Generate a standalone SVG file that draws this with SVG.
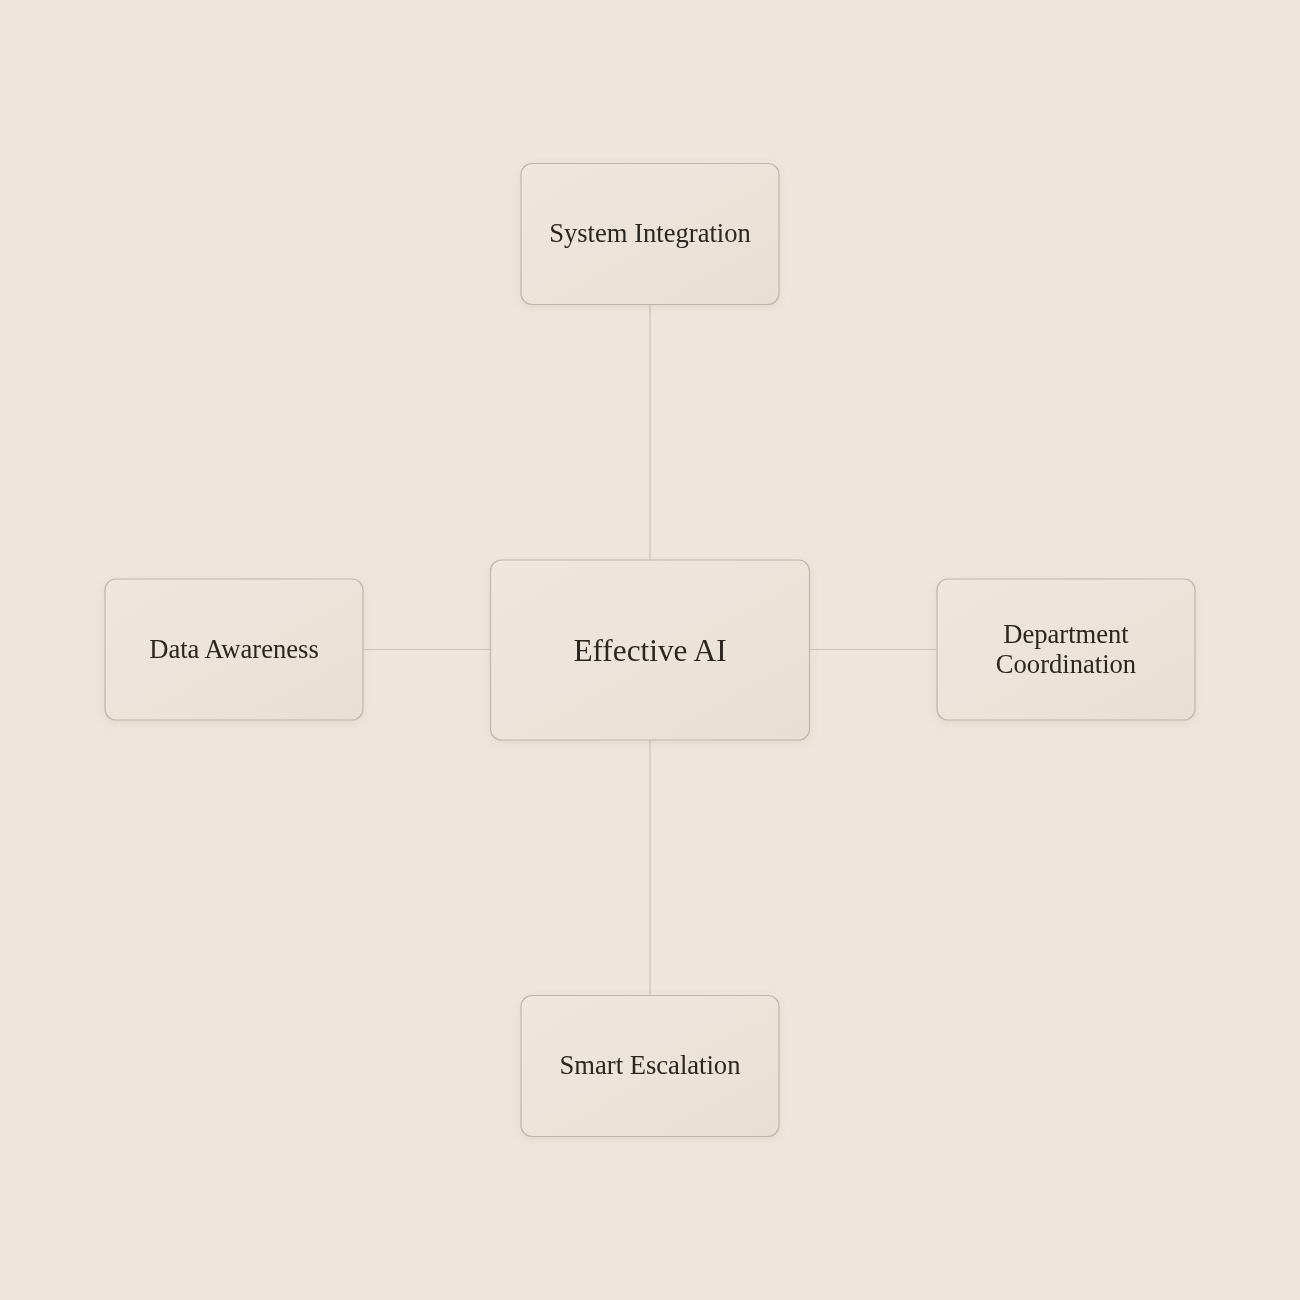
<svg xmlns="http://www.w3.org/2000/svg" width="1300" height="1300" viewBox="0 0 1300 1300">
<style>
.node rect{fill:url(#g);stroke:#BFB6AC;stroke-width:1.2}
.node text{font-family:"Liberation Serif","DejaVu Serif",serif;fill:#2A2520;text-anchor:middle}
.conn line{stroke:#CDC3B8;stroke-width:1.2}
</style>
<defs>
<linearGradient id="g" x1="0" y1="0" x2="1" y2="1">
<stop offset="0" stop-color="#EFE7DE"/>
<stop offset="1" stop-color="#E8DFD4"/>
</linearGradient>
<filter id="sh" x="-20%" y="-20%" width="140%" height="150%">
<feDropShadow dx="0" dy="3" stdDeviation="4" flood-color="#8A7A68" flood-opacity="0.12"/>
</filter>
</defs>
<rect width="1300" height="1300" fill="#EEE5DC"/>
<g class="conn">
<line x1="650" y1="305" x2="650" y2="560"/>
<line x1="650" y1="740" x2="650" y2="995"/>
<line x1="363" y1="649.5" x2="490" y2="649.5"/>
<line x1="810" y1="649.5" x2="937" y2="649.5"/>
</g>
<g id="center" class="node" filter="url(#sh)">
<rect x="490.5" y="560" width="319" height="180" rx="11"/>
<text x="650" y="661" font-size="31.3">Effective AI</text>
</g>
<g id="top" class="node" filter="url(#sh)">
<rect x="521" y="163.5" width="258" height="141" rx="11"/>
<text x="650" y="242" font-size="26.6">System Integration</text>
</g>
<g id="left" class="node" filter="url(#sh)">
<rect x="105" y="579" width="258" height="141" rx="11"/>
<text x="234" y="658" font-size="26.6">Data Awareness</text>
</g>
<g id="right" class="node" filter="url(#sh)">
<rect x="937" y="579" width="258" height="141" rx="11"/>
<text x="1066" y="643" font-size="26.6">Department</text>
<text x="1066" y="673" font-size="26.6">Coordination</text>
</g>
<g id="bottom" class="node" filter="url(#sh)">
<rect x="521" y="995.5" width="258" height="141" rx="11"/>
<text x="650" y="1074" font-size="26.6">Smart Escalation</text>
</g>
</svg>
